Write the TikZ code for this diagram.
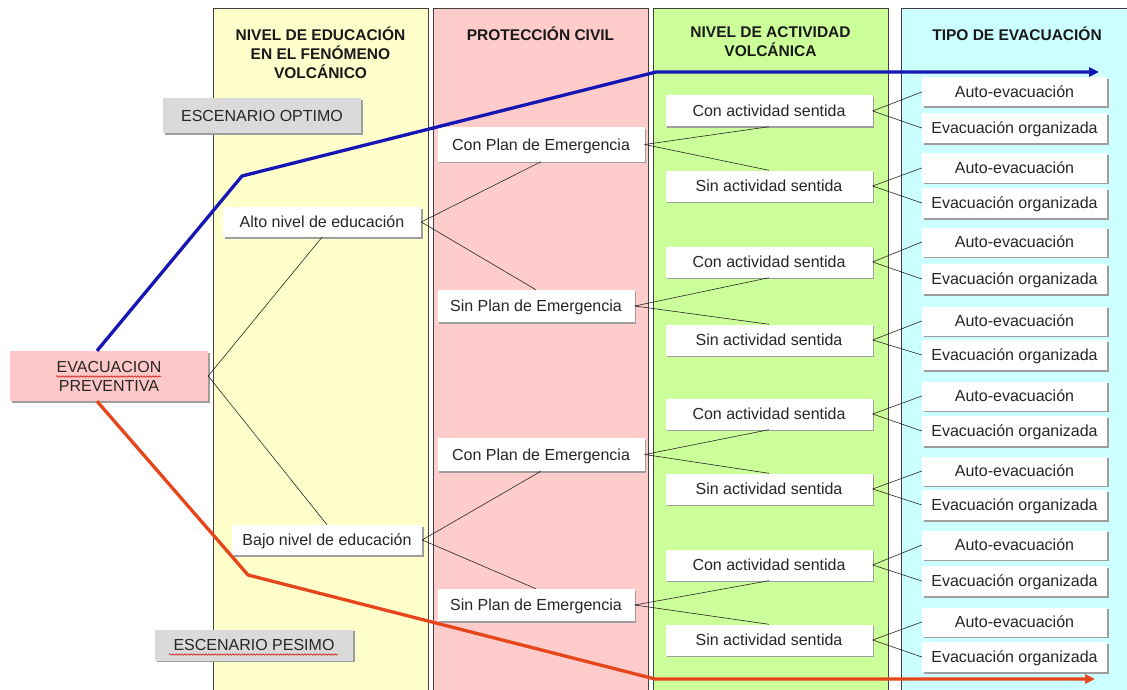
\documentclass[tikz,border=0pt]{standalone}
\usepackage{fontspec}
\setmainfont{Liberation Sans}
\usetikzlibrary{arrows.meta,shadows,decorations.pathmorphing}

\definecolor{colYellow}{RGB}{255,255,204}
\definecolor{colPink}{RGB}{255,204,204}
\definecolor{colGreen}{RGB}{204,255,153}
\definecolor{colCyan}{RGB}{204,255,255}
\definecolor{colBoxPink}{RGB}{255,200,200}
\definecolor{colScenario}{RGB}{218,218,218}
\definecolor{colBest}{RGB}{22,22,180}
\definecolor{colWorst}{RGB}{230,70,25}

\begin{document}
\begin{tikzpicture}[x=1pt,y=-1pt,
  panel/.style={draw=black!75, line width=0.8pt},
  heading/.style={align=center, anchor=north, font=\bfseries\fontsize{15.5}{19}\selectfont, text=black!90},
  boxbase/.style={rectangle, inner sep=0pt, align=center, text=black!85,
    font=\fontsize{16}{19}\selectfont,
    general shadow={fill=black!38, shadow xshift=1.6pt, shadow yshift=-1.6pt}},
  wbox/.style={boxbase, fill=white, text height=11.5pt, text depth=0pt},
  scenbox/.style={boxbase, fill=colScenario, text height=11.5pt, text depth=0pt},
  rootbox/.style={boxbase, fill=colBoxPink},
  link/.style={draw=black!85, line width=0.6pt},
  spell/.style={draw=red!80!black, line width=0.5pt, decorate,
    decoration={snake, amplitude=0.8pt, segment length=3pt}},
  route/.style={line width=3.3pt, -{Triangle[length=10pt,width=9pt]}}
]
\useasboundingbox (0,0) rectangle (1127,690);
\clip (0,0) rectangle (1127,690);
\fill[white] (0,0) rectangle (1127,690);

% column panels
\filldraw[panel, fill=colYellow] (213,8) rectangle (428,700);
\filldraw[panel, fill=colPink]   (433,8) rectangle (648,700);
\filldraw[panel, fill=colGreen]  (653,8) rectangle (888,700);
\filldraw[panel, fill=colCyan]   (901,8) rectangle (1140,700);

% column headings
\node[heading] (h1) at (320.5,23) {NIVEL DE EDUCACIÓN\\EN EL FENÓMENO\\VOLCÁNICO};
\node[heading] (h2) at (540.5,23) {PROTECCIÓN CIVIL};
\node[heading] (h3) at (770.5,23) {NIVEL DE ACTIVIDAD\\VOLCÁNICA};
\node[heading] (h4) at (1017,23) {TIPO DE EVACUACIÓN};

% root and scenario labels
\node[rootbox, minimum width=198, minimum height=50] (root) at (109,376)
  {EVACUACION\\PREVENTIVA};
\node[scenbox, minimum width=198, minimum height=35] (best) at (262,115.5)
  {ESCENARIO OPTIMO};
\node[scenbox, minimum width=198, minimum height=31] (worst) at (254,645)
  {ESCENARIO PESIMO};
\draw[spell] (56,376.5) -- (161,376.5);
\draw[spell] (169,654.5) -- (338,654.5);

% education level
\node[wbox, minimum width=198, minimum height=30] (alto) at (322,222)
  {Alto nivel de educación};
\node[wbox, minimum width=190, minimum height=30] (bajo) at (327,540)
  {Bajo nivel de educación};

% civil protection
\node[wbox, minimum width=207, minimum height=34] (p1) at (541,144.5) {Con Plan de Emergencia};
\node[wbox, minimum width=197, minimum height=32] (p2) at (536,306) {Sin Plan de Emergencia};
\node[wbox, minimum width=207, minimum height=33] (p3) at (541,454.5) {Con Plan de Emergencia};
\node[wbox, minimum width=197, minimum height=32] (p4) at (536,605) {Sin Plan de Emergencia};

% volcanic activity
\foreach \i/\y/\t in {1/111/Con, 2/186/Sin, 3/262/Con, 4/340/Sin,
                      5/414/Con, 6/489/Sin, 7/565/Con, 8/640/Sin}
  \node[wbox, minimum width=207, minimum height=31] (ac\i) at (769,\y) {\t\ actividad sentida};

% evacuation type
\foreach \i/\ya/\ye in {1/92/128, 2/168/203, 3/242/279, 4/321/355,
                        5/396/431, 6/471/505, 7/545/581, 8/622/657} {
  \node[wbox, minimum width=185, minimum height=29] (au\i) at (1014.5,\ya) {Auto-evacuación};
  \node[wbox, minimum width=185, minimum height=30] (eo\i) at (1014.5,\ye) {Evacuación organizada};
}

% tree connectors
\draw[link] (root.east) -- (alto.south);
\draw[link] (root.east) -- (bajo.north);
\draw[link] (alto.east) -- (p1.south);
\draw[link] (alto.east) -- (p2.north);
\draw[link] (bajo.east) -- (p3.south);
\draw[link] (bajo.east) -- (p4.north);
\draw[link] (p1.east) -- (ac1.south);
\draw[link] (p1.east) -- (ac2.north);
\draw[link] (p2.east) -- (ac3.south);
\draw[link] (p2.east) -- (ac4.north);
\draw[link] (p3.east) -- (ac5.south);
\draw[link] (p3.east) -- (ac6.north);
\draw[link] (p4.east) -- (ac7.south);
\draw[link] (p4.east) -- (ac8.north);
\foreach \i in {1,...,8} {
  \draw[link] (ac\i.east) -- (au\i.west);
  \draw[link] (ac\i.east) -- (eo\i.west);
}

% best and worst scenario routes
\coordinate (b1) at (242,176);
\coordinate (b2) at (656,72);
\coordinate (bEnd) at (1099,72);
\coordinate (r1) at (248,575);
\coordinate (r2) at (655,679);
\coordinate (rEnd) at (1095,679);
\draw[route, colBest, line join=round] ([xshift=-12pt]root.north) -- (b1) -- (b2) -- (bEnd);
\draw[route, colWorst, line join=round] ([xshift=-12pt]root.south) -- (r1) -- (r2) -- (rEnd);
\end{tikzpicture}
\end{document}
